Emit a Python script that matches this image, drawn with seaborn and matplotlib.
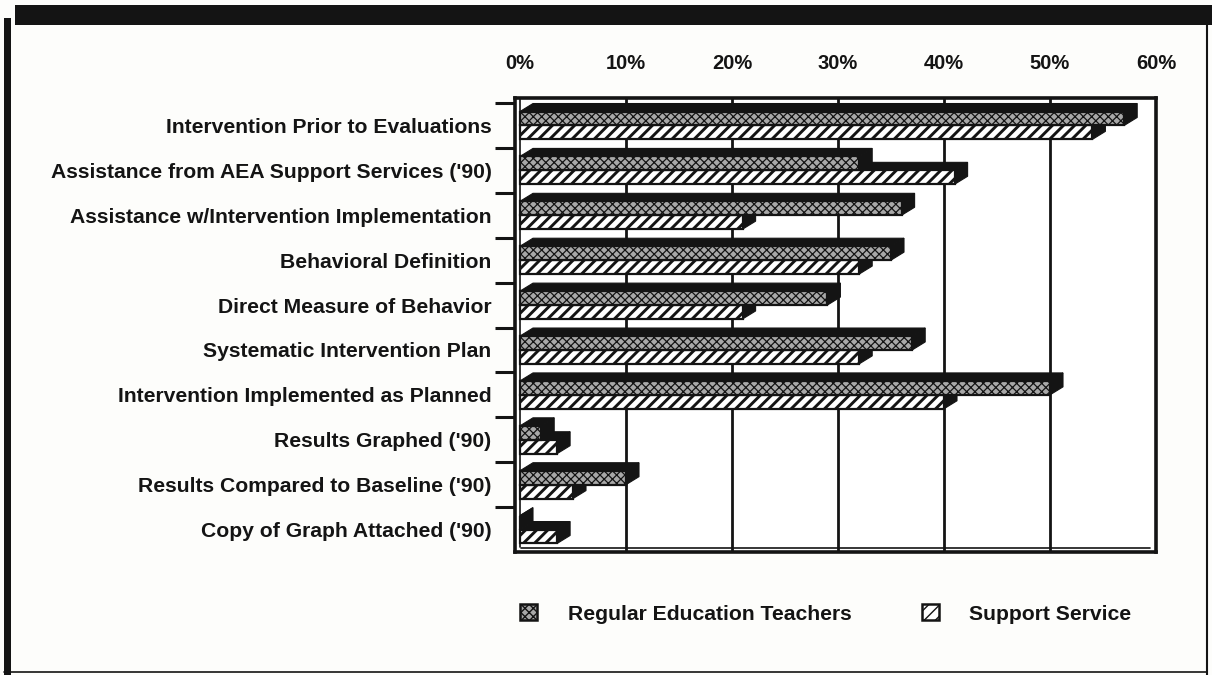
import numpy as np
import pandas as pd
import matplotlib
matplotlib.use("Agg")
import matplotlib.pyplot as plt
from matplotlib.patches import Polygon, Rectangle, Patch
from matplotlib.transforms import IdentityTransform
from matplotlib.lines import Line2D
import seaborn as sns

categories = [
    "Intervention Prior to Evaluations",
    "Assistance from AEA Support Services ('90)",
    "Assistance w/Intervention Implementation",
    "Behavioral Definition",
    "Direct Measure of Behavior",
    "Systematic Intervention Plan",
    "Intervention Implemented as Planned",
    "Results Graphed ('90)",
    "Results Compared to Baseline ('90)",
    "Copy of Graph Attached ('90)",
]
regular_teachers = [57, 32, 36, 35, 29, 37, 50, 2, 10, 0]
support_service = [54, 41, 21, 32, 21, 32, 40, 3.5, 5, 3.5]
series_names = ["Regular Education Teachers", "Support Service"]
tick_values = [0, 10, 20, 30, 40, 50, 60]
tick_labels = ["0%", "10%", "20%", "30%", "40%", "50%", "60%"]

df = pd.DataFrame({
    "category": categories * 2,
    "group": [series_names[0]] * len(categories) + [series_names[1]] * len(categories),
    "value": regular_teachers + support_service,
})

INK = "#141414"
sns.set_theme(style="white")
plt.rcParams["font.family"] = ["Liberation Sans", "DejaVu Sans"]
plt.rcParams["font.weight"] = "bold"
plt.rcParams["hatch.color"] = INK

W, H = 1212, 675
fig = plt.figure(figsize=(W / 100, H / 100), dpi=100)
fig.patch.set_facecolor("#fdfdfb")

# plot box in pixels (front frame)
px_left, px_right, px_top, px_bottom = 515, 1156, 98, 552
ax = fig.add_axes([px_left / W, 1 - px_bottom / H,
                   (px_right - px_left) / W, (px_bottom - px_top) / H])
ax.set_facecolor("white")

FILL = ["#a8a8a8", "white"]
sns.barplot(data=df, y="category", x="value", hue="group", orient="h",
            width=0.62, gap=0.0, palette=FILL,
            edgecolor=INK, linewidth=1.6, legend=False, ax=ax,
            saturation=1)

hatches = ["xxxx", "///"]
hatch_lw = [0.9, 2.1]


def style_hatch(p, k):
    p.set_hatch(hatches[k])
    if hasattr(p, "set_hatch_linewidth"):
        p.set_hatch_linewidth(hatch_lw[k])
    else:
        p._hatch_linewidth = hatch_lw[k]


for k, cont in enumerate(ax.containers):
    for bar in cont:
        style_hatch(bar, k)

x_per_px = 10 / 106.0
ax.set_xlim(-5 * x_per_px, 60)
cat_px = 44.9
ax.set_ylim(len(categories) - 0.5, -0.5 - 5 / cat_px)

# back wall gridlines
for v in tick_values[1:-1]:
    ax.axvline(v, color=INK, lw=2.0, zorder=0.5)
ax.axvline(0, ymin=0.01, color=INK, lw=1.2, zorder=0.5)
ax.axhline(len(categories) - 0.5 - 4 / cat_px, xmin=0.01, xmax=0.99,
           color=INK, lw=1.2, zorder=0.5)

for s in ["left", "right", "top", "bottom"]:
    ax.spines[s].set_visible(True)
    ax.spines[s].set_color(INK)
    ax.spines[s].set_linewidth(2.6)

ax.xaxis.tick_top()
ax.set_xticks(tick_values)
ax.set_xticklabels(tick_labels)
ax.tick_params(axis="x", length=0, pad=18, labelsize=14.5)
ax.set_xlabel("")
ax.set_ylabel("")
ax.set_yticks(range(len(categories)))
ax.set_yticklabels(categories)
ax.tick_params(axis="y", which="major", length=0, pad=17, labelsize=15.2)
ax.set_yticks(np.arange(len(categories)) - 0.5, minor=True)
ax.tick_params(axis="y", which="minor", length=14.5, width=2.2,
               color=INK, left=True)
for lab in ax.get_xticklabels() + ax.get_yticklabels():
    lab.set_fontweight("bold")
    lab.set_color(INK)

# 3-D depth faces on each bar; the upper series sits in front of the lower one
fig.canvas.draw()
dx, dy = 13, 8
for k, cont in enumerate(ax.containers):
    z_face = 2 + 2 * (len(ax.containers) - 1 - k)
    for bar in cont:
        bar.set_zorder(z_face + 1)
        x0, y0 = bar.get_x(), bar.get_y()
        w, h = bar.get_width(), bar.get_height()
        (xl, yb), (xr, yt) = ax.transData.transform([(x0, y0 + h), (x0 + w, y0)])
        top = Polygon([(xl, yt), (xr, yt), (xr + dx, yt + dy), (xl + dx, yt + dy)],
                      closed=True, facecolor=INK, edgecolor=INK,
                      lw=0.8, transform=IdentityTransform(), zorder=z_face)
        side = Polygon([(xr, yb), (xr, yt), (xr + dx, yt + dy), (xr + dx, yb + dy)],
                       closed=True, facecolor=INK, edgecolor=INK,
                       lw=0.8, transform=IdentityTransform(), zorder=z_face)
        ax.add_patch(top)
        ax.add_patch(side)

# legend
handles = []
for k in range(2):
    hp = Patch(facecolor=FILL[k], edgecolor=INK, lw=1.8)
    style_hatch(hp, k)
    handles.append(hp)
leg = fig.legend(handles, series_names, loc="center left",
                 bbox_to_anchor=(501 / W, 1 - 614 / H), ncol=2, frameon=False,
                 handlelength=0.8, handleheight=0.8, handletextpad=1.45,
                 columnspacing=3.35, prop={"weight": "bold", "size": 15.2})
for t in leg.get_texts():
    t.set_color(INK)

# page frame
fig.add_artist(Rectangle((15 / W, 1 - 25 / H), 1 - 15 / W, 20 / H,
                         transform=fig.transFigure, facecolor=INK,
                         edgecolor="none"))
fig.add_artist(Rectangle((4 / W, 0), 7 / W, 1 - 18 / H,
                         transform=fig.transFigure, facecolor=INK,
                         edgecolor="none"))
fig.add_artist(Line2D([1207 / W, 1207 / W], [0, 1 - 20 / H],
                      transform=fig.transFigure, color=INK, lw=1.5))
fig.add_artist(Line2D([4 / W, 1207 / W], [3 / H, 3 / H],
                      transform=fig.transFigure, color=INK, lw=1.2))

fig.savefig("out.png", dpi=100, facecolor=fig.get_facecolor())
